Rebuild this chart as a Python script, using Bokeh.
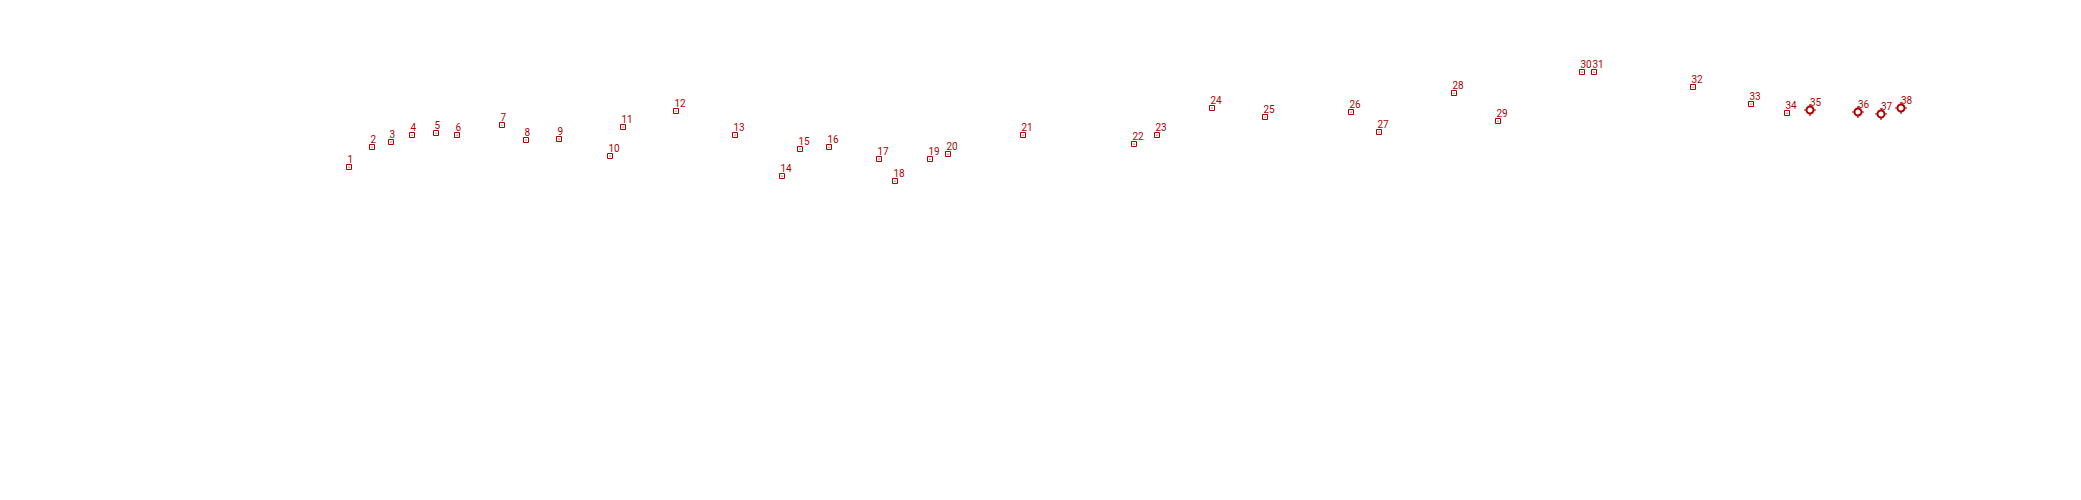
from bokeh.plotting import figure
from bokeh.models import Range1d, ColumnDataSource
from bokeh.core.properties import value
from bokeh.embed import file_html
from bokeh.resources import INLINE

labels = [str(i) for i in range(1, 39)]
xs = [348.5, 371.5, 390.5, 411.5, 435.5, 456.5, 501.5, 525.5, 558.5, 609.5,
      622.5, 675.5, 734.5, 781.5, 799.5, 828.5, 878.5, 894.5, 929.5, 947.5,
      1022.5, 1133.5, 1156.5, 1211.5, 1264.5, 1350.5, 1378.5, 1453.5, 1497.5, 1581.5,
      1593.5, 1692.5, 1750.5, 1786.5, 1809.5, 1857.5, 1880.5, 1900.5]
ys = [317.5, 337.5, 342.5, 349.5, 351.5, 349.5, 359.5, 344.5, 345.5, 328.5,
      357.5, 373.5, 349.5, 308.5, 335.5, 337.5, 325.5, 303.5, 325.5, 330.5,
      349.5, 340.5, 349.5, 376.5, 367.5, 372.5, 352.5, 391.5, 363.5, 412.5,
      412.5, 397.5, 380.5, 371.5, 374.5, 372.5, 370.5, 376.5]
kind = ["square"] * 34 + ["circle"] * 4

COLOR = "#b00000"
W, H = 2065, 484

p = figure(width=W, height=H, output_backend="svg", toolbar_location=None,
           x_range=Range1d(0, W), y_range=Range1d(0, H), min_border=0)
p.axis.visible = False
p.grid.visible = False
p.outline_line_color = None


def subset(k):
    return ColumnDataSource(dict(x=[x for x, kk in zip(xs, kind) if kk == k],
                                 y=[y for y, kk in zip(ys, kind) if kk == k],
                                 t=[t for t, kk in zip(labels, kind) if kk == k]))


sq = subset("square")
ci = subset("circle")

p.scatter("x", "y", source=sq, marker="square_dot", size=5, line_color=COLOR,
          line_width=1, fill_color=None)
p.scatter("x", "y", source=ci, marker="cross", size=12, line_color=COLOR, line_width=1.2)
p.scatter("x", "y", source=ci, marker="circle", size=7, line_color=COLOR,
          line_width=2, fill_color="white")

p.text("x", "y", text="t", source=sq, text_color=COLOR, text_font=value("Roboto"),
       text_font_size="10px", text_baseline="bottom", text_align="left",
       x_offset=-1.5, y_offset=-4)
p.text("x", "y", text="t", source=ci, text_color=COLOR, text_font=value("Roboto"),
       text_font_size="10px", text_baseline="bottom", text_align="left",
       x_offset=0, y_offset=-4.5)

open("out.html", "w").write(file_html(p, INLINE))
